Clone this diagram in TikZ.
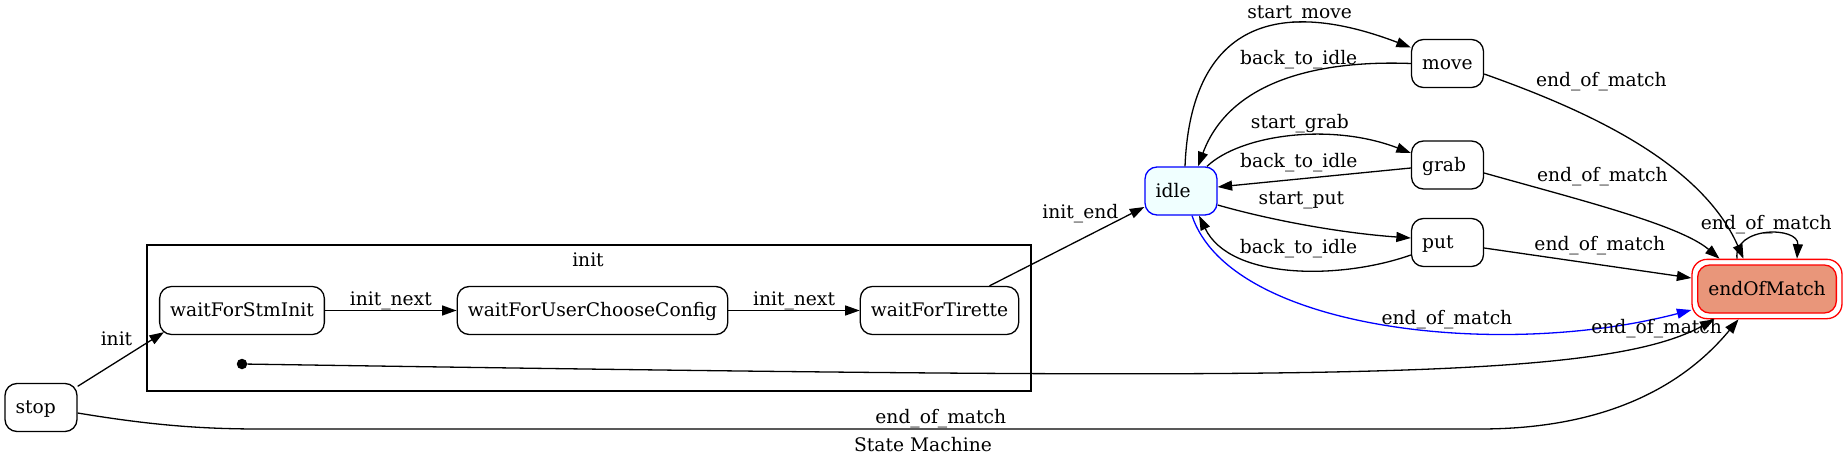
\documentclass[tikz,border=0pt]{standalone}
\usepackage{fontspec}
\setmainfont{DejaVu Serif}
\usepackage{tikz}
\usetikzlibrary{positioning,shapes,arrows.meta,fit}
\definecolor{azure}{HTML}{F0FFFF}
\definecolor{darksalmon}{HTML}{E9967A}
\tikzset{
  state/.style={draw, rounded corners=12pt, line width=1.3pt, minimum width=72pt, minimum height=48pt,
    inner xsep=10.6pt, inner ysep=0pt, text height=13pt, text depth=0.5pt},
  small/.style={text width=50.8pt, align=left},
  trans/.style={-{Triangle[length=14.5pt,width=10pt]}, line width=1.3pt},
  lbl/.style={inner sep=0pt, text height=14pt, text depth=4.5pt}
}

\begin{document}
\begin{tikzpicture}[x=1pt, y=-1pt, font=\fontsize{18.67}{22}\selectfont]
\useasboundingbox (0,0) rectangle (1847,468);
% cluster init
\coordinate (clNW) at (147,245);
\coordinate (clSE) at (1031,391);
\draw[line width=1.3pt] (clNW) rectangle (clSE);
\node[lbl] (initname) at (588,261.25) {init};
% Zustaende
\node[state, small] (stop) at (41,407.5) {stop};
\node[state] (wfsi) at (242,310.5) {waitForStmInit};
\node[state] (wfucc) at (592.5,310.5) {waitForUserChooseConfig};
\node[state] (wft) at (939.5,310.5) {waitForTirette};
\node[circle, fill, inner sep=0pt, minimum size=10.5pt] (initdot) at (242,364) {};
\node[state, small, draw=blue, fill=azure] (idle) at (1181,191) {idle};
\node[state, small] (move) at (1447.5,63.5) {move};
\node[state, small] (grab) at (1447.5,165) {grab};
\node[state, small] (put) at (1447.5,242.5) {put};
\node[state, draw=red, fill=darksalmon] (eom) at (1767,289) {endOfMatch};
\node[draw=red, rounded corners=15pt, line width=1.3pt, inner sep=5pt, fit=(eom)] (eomOuter) {};
% init
\draw[trans] (stop.30) -- node[lbl, pos=0.45, above=11pt] {init} ([xshift=5pt,yshift=3pt]wfsi.south west);
\draw[trans] (wfsi) -- node[lbl, above] {init\_next} (wfucc);
\draw[trans] (wfucc) -- node[lbl, above] {init\_next} (wft);
\draw[trans] ([xshift=50pt]wft.north) -- node[lbl, pos=0.587, above=16pt] {init\_end} ([yshift=-16pt]idle.west);
% idle <-> move, grab, put
\draw[trans] ([xshift=4pt]idle.north) .. controls (1190,40) and (1260,-10) .. node[lbl, pos=0.71, above] {start\_move} ([yshift=16pt]move.west);
\draw[trans] (move.west) .. controls (1320,60) and (1230,80) .. node[lbl, pos=0.43, above=6pt] {back\_to\_idle} ([xshift=17pt]idle.north);
\draw[trans] ([xshift=26pt]idle.north) .. controls (1240,135) and (1330,122) .. node[lbl, pos=0.54, above=2pt] {start\_grab} ([yshift=12pt]grab.west);
\draw[trans] ([yshift=-3pt]grab.west) -- node[lbl, pos=0.58, above=6pt] {back\_to\_idle} ([yshift=4pt]idle.east);
\draw[trans] ([yshift=-14pt]idle.east) .. controls (1270,220) and (1340,233) .. node[lbl, pos=0.47, above=15pt] {start\_put} ([yshift=4.5pt]put.west);
\draw[trans] ([yshift=-12.5pt]put.west) .. controls (1340,280) and (1230,280) .. node[lbl, pos=0.465, above=11pt] {back\_to\_idle} ([xshift=18pt]idle.south);
% end_of_match
\draw[trans, blue] ([xshift=11pt]idle.south) .. controls (1230,330) and (1500,360) .. node[lbl, pos=0.605, above=2pt, text=black] {end\_of\_match} ([yshift=-21pt]eomOuter.west);
\draw[trans] ([yshift=-10.5pt]move.east) .. controls (1580,108) and (1700,160) .. node[lbl, pos=0.39, above=32pt] {end\_of\_match} ([xshift=-23.5pt]eomOuter.north);
\draw[trans] ([yshift=-8pt]grab.east) .. controls (1580,200) and (1680,225) .. node[lbl, pos=0.42, above=20pt] {end\_of\_match} ([xshift=-47.5pt]eomOuter.north);
\draw[trans] ([yshift=-5.5pt]put.east) -- node[lbl, pos=0.558, above=9pt] {end\_of\_match} ([yshift=11pt]eomOuter.west);
\draw[trans] ([xshift=-30pt]eomOuter.north) .. controls (1733,226) and (1799,226) .. node[lbl, above] {end\_of\_match} ([xshift=30pt]eomOuter.north);
\draw[trans] (initdot) .. controls (1300,380) and (1600,382) .. node[lbl, pos=0.865, above=3pt] {end\_of\_match} ([xshift=-52.5pt]eomOuter.south);
\draw[trans] ([yshift=-5.5pt]stop.east) .. controls (150,425) and (200,429) .. (260,429)
  -- node[lbl, pos=0.558, above] {end\_of\_match} (1480,429)
  .. controls (1600,429) and (1680,390) .. ([xshift=-28.5pt]eomOuter.south);
% Titel
\node[lbl] (title) at (923,447) {State Machine};
\end{tikzpicture}
\end{document}
